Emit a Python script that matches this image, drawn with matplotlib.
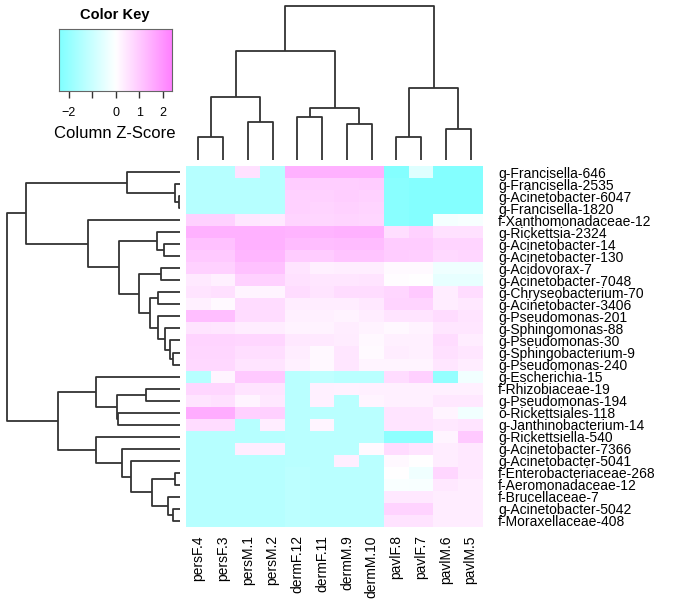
import numpy as np
import matplotlib
matplotlib.use('Agg')
from matplotlib import pyplot as plt
from matplotlib.colors import LinearSegmentedColormap

plt.rcParams['font.family'] = ['Liberation Sans', 'DejaVu Sans']

col_labels = ['persF.4', 'persF.3', 'persM.1', 'persM.2', 'dermF.12', 'dermF.11',
              'dermM.9', 'dermM.10', 'pavlF.8', 'pavlF.7', 'pavlM.6', 'pavlM.5']

row_labels = ['g-Francisella-646', 'g-Francisella-2535', 'g-Acinetobacter-6047',
              'g-Francisella-1820', 'f-Xanthomonadaceae-12', 'g-Rickettsia-2324',
              'g-Acinetobacter-14', 'g-Acinetobacter-130', 'g-Acidovorax-7',
              'g-Acinetobacter-7048', 'g-Chryseobacterium-70', 'g-Acinetobacter-3406',
              'g-Pseudomonas-201', 'g-Sphingomonas-88', 'g-Pseudomonas-30',
              'g-Sphingobacterium-9', 'g-Pseudomonas-240', 'g-Escherichia-15',
              'f-Rhizobiaceae-19', 'g-Pseudomonas-194', 'o-Rickettsiales-118',
              'g-Janthinobacterium-14', 'g-Rickettsiella-540', 'g-Acinetobacter-7366',
              'g-Acinetobacter-5041', 'f-Enterobacteriaceae-268', 'f-Aeromonadaceae-12',
              'f-Brucellaceae-7', 'g-Acinetobacter-5042', 'f-Moraxellaceae-408']

# column z-scores, one list per row (columns in the order of col_labels)
zscores = [
    [-1.35, -1.35, 0.55, -1.35, 1.45, 1.45, 1.45, 1.45, -2.3, -0.6, -2.3, -2.3],
    [-1.35, -1.35, -1.35, -1.35, 0.95, 0.9, 0.9, 0.95, -2.2, -2.3, -2.3, -2.3],
    [-1.35, -1.35, -1.35, -1.35, 0.85, 0.85, 0.9, 0.85, -2.2, -2.3, -2.3, -2.3],
    [-1.35, -1.35, -1.35, -1.35, 0.85, 0.8, 0.85, 0.8, -2.2, -2.3, -2.3, -2.3],
    [0.85, 0.85, 0.45, 0.4, 0.8, 0.75, 0.8, 0.75, -2.2, -2.3, -0.2, -0.15],
    [1.45, 1.45, 1.45, 1.45, 1.4, 1.4, 1.45, 1.45, 0.6, 0.85, 0.55, 0.55],
    [1.15, 1.15, 1.45, 1.45, 1.25, 1.2, 1.25, 1.25, 0.95, 0.95, 0.8, 0.8],
    [1.0, 1.0, 1.35, 1.35, 0.95, 0.95, 1.1, 1.1, 0.95, 0.9, 0.7, 0.75],
    [0.85, 0.85, 1.15, 1.15, 0.5, 0.28, 0.3, 0.3, 0.1, 0.1, -0.3, -0.3],
    [0.4, 0.28, 0.85, 0.85, 0.55, 0.45, 0.45, 0.5, 0.05, 0.0, -0.45, -0.45],
    [0.5, 0.58, 0.2, 0.2, 0.65, 0.5, 0.65, 0.65, 0.75, 1.0, 0.32, 0.65],
    [0.28, 0.1, 0.65, 0.65, 0.32, 0.32, 0.32, 0.43, 0.8, 0.8, 0.32, 0.43],
    [1.2, 1.2, 0.65, 0.65, 0.28, 0.28, 0.21, 0.32, 0.5, 0.5, 0.65, 0.5],
    [0.5, 0.45, 0.32, 0.32, 0.21, 0.21, 0.32, 0.21, 0.13, 0.21, 0.45, 0.45],
    [0.8, 0.8, 0.75, 0.75, 0.43, 0.4, 0.35, 0.13, 0.28, 0.28, 0.65, 0.32],
    [0.75, 0.75, 0.6, 0.6, 0.32, 0.13, 0.45, 0.08, 0.32, 0.28, 0.58, 0.45],
    [0.72, 0.72, 0.5, 0.5, 0.28, 0.13, 0.45, 0.2, 0.2, 0.2, 0.45, 0.32],
    [-1.35, 0.2, 1.0, 1.0, -1.3, -1.2, -1.3, -1.3, 0.65, 0.88, -2.0, -0.25],
    [0.75, 0.75, 0.5, 0.5, -1.3, 0.28, 0.25, 0.28, 0.28, 0.28, 0.28, 0.28],
    [0.5, 0.58, 0.2, 0.43, -1.3, 0.28, -1.3, 0.2, 0.28, 0.28, 0.43, 0.43],
    [1.55, 1.55, 0.88, 0.88, -1.3, -1.3, -1.3, -1.3, 0.5, 0.5, 0.2, -0.25],
    [0.64, 0.64, -1.35, 0.32, -1.3, 0.2, -1.3, -1.3, 0.5, 0.5, 0.43, 0.5],
    [-1.35, -1.35, -1.35, -1.35, -1.3, -1.3, -1.3, -1.3, -2.1, -2.1, 0.2, 1.0],
    [-1.35, -1.35, 0.32, 0.32, -1.3, -1.3, -1.3, 0.1, 0.64, 0.5, 0.32, 0.43],
    [-1.35, -1.35, -1.35, -1.35, -1.3, -1.3, 0.3, -1.3, 0.13, 0.0, 0.32, 0.43],
    [-1.35, -1.35, -1.35, -1.35, -1.25, -1.3, -1.3, -1.3, 0.0, -0.28, 0.75, 0.43],
    [-1.35, -1.35, -1.35, -1.35, -1.25, -1.3, -1.3, -1.3, -0.1, -0.13, 0.43, 0.32],
    [-1.35, -1.35, -1.35, -1.35, -1.25, -1.3, -1.3, -1.3, 0.43, 0.43, 0.32, 0.32],
    [-1.35, -1.35, -1.35, -1.35, -1.25, -1.3, -1.3, -1.3, 0.81, 0.81, 0.32, 0.32],
    [-1.35, -1.35, -1.35, -1.35, -1.25, -1.3, -1.3, -1.3, 0.51, 0.51, 0.32, 0.32],
]

# dendrograms as nested (left, right, height); leaves are display indices
col_tree = ((((0, 1, 23.3), (2, 3, 38.3), 63.0),
             ((4, 5, 43.3), (6, 7, 36.3), 52.3), 108.7),
            ((8, 9, 23.3), (10, 11, 31.3), 71.7), 154.3)

row_top = ((0, (1, (2, 3, 1.3), 5.0), 53.3),
           (4, ((5, (6, 7, 16.0), 22.7),
                ((8, 9, 18.7),
                 ((10, 11, 22.0),
                  (12, (13, (14, (15, 16, 6.7), 10.0), 15.0), 22.0), 30.3), 41.0), 61.0), 92.0), 154.0)
row_bottom = ((17, ((18, 19, 34.3), (20, 21, 61.7), 62.7), 84.3),
              (22, (23, (24, ((25, 26, 5.3), (27, (28, 29, 6.7), 12.0), 27.7), 48.7), 57.7), 83.7), 122.0)
row_tree = (row_top, row_bottom, 173.3)

key_range = (-2.39, 2.37)
key_ticks = [-2, -1, 0, 1, 2]
key_ticklabels = ['\u22122', '', '0', '1', '2']

W, H = 683, 609
LINE = '#333333'
cmap = LinearSegmentedColormap.from_list('cwm', ['#7fffff', '#ffffff', '#ff7fff'])


def box(x0, y0, x1, y1):
    # pixel box (from top-left) -> figure fraction rect
    return [x0 / W, (H - y1) / H, (x1 - x0) / W, (y1 - y0) / H]


def draw_tree(ax, node, vertical):
    if isinstance(node, int):
        return node, 0.0
    left, right, h = node
    pl, hl = draw_tree(ax, left, vertical)
    pr, hr = draw_tree(ax, right, vertical)
    pos = [pl, pl, pr, pr]
    hts = [hl, h, h, hr]
    if vertical:
        ax.plot(pos, hts, color=LINE, lw=1.3, solid_capstyle='butt')
    else:
        ax.plot(hts, pos, color=LINE, lw=1.3, solid_capstyle='butt')
    return (pl + pr) / 2.0, h


def clean(ax):
    ax.set_xticks([])
    ax.set_yticks([])
    for s in ax.spines.values():
        s.set_visible(False)


fig = plt.figure(figsize=(W / 100.0, H / 100.0), dpi=100)

z = np.array(zscores)
nr, nc = z.shape

ax = fig.add_axes(box(186, 166, 483, 527))
ax.imshow(z, cmap=cmap, vmin=-2.4, vmax=2.4, aspect='auto', interpolation='nearest',
          extent=(-0.5, nc - 0.5, nr - 0.5, -0.5))
for s in ax.spines.values():
    s.set_visible(False)
ax.yaxis.tick_right()
ax.set_yticks(range(nr))
ax.set_yticklabels(row_labels, fontsize=10)
ax.set_xticks(range(nc))
ax.set_xticklabels(col_labels, fontsize=10, rotation=90)
ax.tick_params(axis='y', length=0, pad=11)
ax.tick_params(axis='x', length=0, pad=6)
ax.set_xlim(-0.5, nc - 0.5)
ax.set_ylim(nr - 0.5, -0.5)

axc = fig.add_axes(box(186, 4, 483, 160))
draw_tree(axc, col_tree, True)
axc.set_xlim(-0.5, nc - 0.5)
axc.set_ylim(0, 156)
clean(axc)

axr = fig.add_axes(box(5, 166, 180, 527))
draw_tree(axr, row_tree, False)
axr.set_xlim(175, 0)
axr.set_ylim(nr - 0.5, -0.5)
clean(axr)

axk = fig.add_axes(box(59.3, 29.3, 171.7, 90.7))
grad = np.linspace(key_range[0], key_range[1], 256)[None, :]
axk.imshow(grad, cmap=cmap, vmin=-2.4, vmax=2.4, aspect='auto',
           extent=(key_range[0], key_range[1], 0, 1))
axk.set_xlim(*key_range)
axk.set_yticks([])
axk.set_xticks(key_ticks)
axk.set_xticklabels(key_ticklabels, fontsize=9)
axk.tick_params(axis='x', length=5, width=1, color='#333333', pad=7)
for s in axk.spines.values():
    s.set_color('#666666')
    s.set_linewidth(0.8)

fig.text(115 / W, 1 - 15 / H, 'Color Key', ha='center', va='center',
         fontsize=10.5, fontweight='bold')
fig.text(115 / W, 1 - 133 / H, 'Column Z-Score', ha='center', va='center', fontsize=12)

fig.savefig('out.png', dpi=100)
